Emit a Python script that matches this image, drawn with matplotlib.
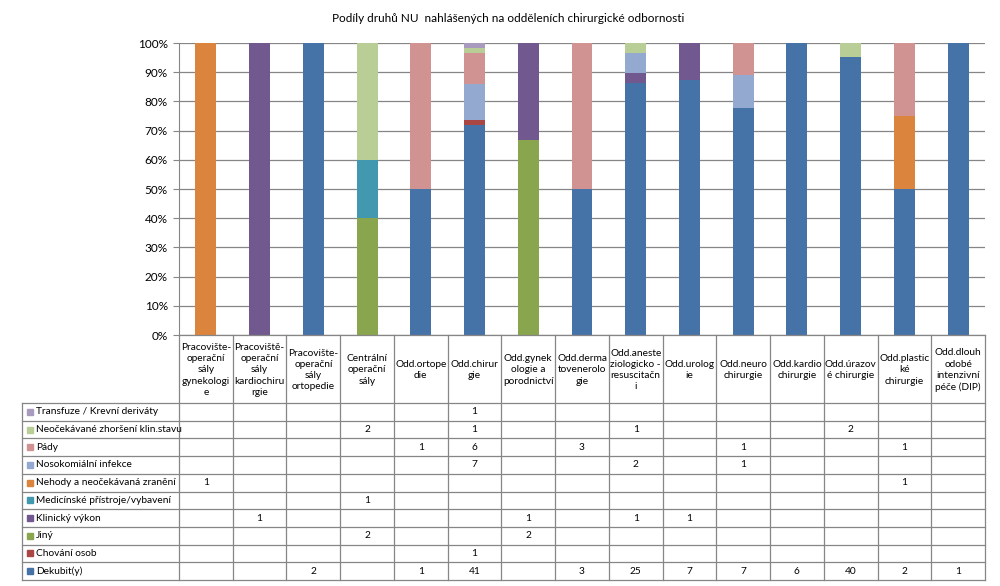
import numpy as np
import matplotlib.pyplot as plt

plt.rcParams['font.family'] = ['Lato', 'DejaVu Sans']

# oddeleni (sloupce)
departments = [
    "Pracovište-\noperační\nsály\ngynekologi\ne",
    "Pracoviště-\noperační\nsály\nkardiochiru\nrgie",
    "Pracovište-\noperační\nsály\nortopedie",
    "Centrální\noperační\nsály",
    "Odd.ortope\ndie",
    "Odd.chirur\ngie",
    "Odd.gynek\nologie a\nporodnictví",
    "Odd.derma\ntovenerolo\ngie",
    "Odd.aneste\nziologicko -\nresuscitačn\ni",
    "Odd.urolog\nie",
    "Odd.neuro\nchirurgie",
    "Odd.kardio\nchirurgie",
    "Odd.úrazov\né chirurgie",
    "Odd.plastic\nké\nchirurgie",
    "Odd.dlouh\nodobé\nintenzivní\npéče (DIP)",
]

# druhy NU, poradi od spodu sloupce
categories = [
    "Dekubit(y)",
    "Chování osob",
    "Jiný",
    "Klinický výkon",
    "Medicínské přístroje/vybavení",
    "Nehody a neočekávaná zranění",
    "Nosokomiální infekce",
    "Pády",
    "Neočekávané zhoršení klin.stavu",
    "Transfuze / Krevní deriváty",
]

colors = ["#4572A7", "#AA4643", "#89A54E", "#71588F", "#4198AF",
          "#DB843D", "#93A9CF", "#D19392", "#B9CD96", "#A99BBD"]

# pocty (0 = prazdna bunka)
dekubit      = [0, 0, 2, 0, 1, 41, 0, 3, 25, 7, 7, 6, 40, 2, 1]
chovani      = [0, 0, 0, 0, 0, 1, 0, 0, 0, 0, 0, 0, 0, 0, 0]
jiny         = [0, 0, 0, 2, 0, 0, 2, 0, 0, 0, 0, 0, 0, 0, 0]
klinicky     = [0, 1, 0, 0, 0, 0, 1, 0, 1, 1, 0, 0, 0, 0, 0]
medicinske   = [0, 0, 0, 1, 0, 0, 0, 0, 0, 0, 0, 0, 0, 0, 0]
nehody       = [1, 0, 0, 0, 0, 0, 0, 0, 0, 0, 0, 0, 0, 1, 0]
nosokomialni = [0, 0, 0, 0, 0, 7, 0, 0, 2, 0, 1, 0, 0, 0, 0]
pady         = [0, 0, 0, 0, 1, 6, 0, 3, 0, 0, 1, 0, 0, 1, 0]
neocekavane  = [0, 0, 0, 2, 0, 1, 0, 0, 1, 0, 0, 0, 2, 0, 0]
transfuze    = [0, 0, 0, 0, 0, 1, 0, 0, 0, 0, 0, 0, 0, 0, 0]

counts = np.array([dekubit, chovani, jiny, klinicky, medicinske, nehody,
                   nosokomialni, pady, neocekavane, transfuze], dtype=float)
pct = counts / counts.sum(axis=0) * 100

W, H = 1000, 586
fig = plt.figure(figsize=(W / 100, H / 100), dpi=100)

# layout v pixelech
ax_l, ax_r, ax_t, ax_b = 179, 985, 43, 335
tab_l, head_b, tab_b = 22, 403, 580
grid_c = "#868686"

ax = fig.add_axes([ax_l / W, 1 - ax_b / H, (ax_r - ax_l) / W, (ax_b - ax_t) / H])
x = np.arange(len(departments))
bottom = np.zeros(len(departments))
for i, cat in enumerate(categories):
    ax.bar(x, pct[i], 0.39, bottom=bottom, color=colors[i], zorder=3)
    bottom += pct[i]

ax.set_xlim(-0.5, len(departments) - 0.5)
ax.set_ylim(0, 100)
ax.set_yticks(np.arange(0, 101, 10))
ax.set_yticklabels([f"{v}%" for v in range(0, 101, 10)], fontsize=8.5)
ax.yaxis.grid(True, color=grid_c, linewidth=0.9, zorder=0)
ax.set_xticks([])
for s in ["top", "right", "bottom"]:
    ax.spines[s].set_visible(False)
ax.spines["left"].set_color(grid_c)
ax.tick_params(axis="y", length=4, color=grid_c, pad=4)

fig.text(0.508, 1 - 19 / H, "Podíly druhů NU  nahlášených na odděleních chirurgické odbornosti",
         ha="center", va="center", fontsize=8.5)

# datova tabulka
tax = fig.add_axes([0, 0, 1, 1])
tax.set_xlim(0, W)
tax.set_ylim(H, 0)
tax.axis("off")

ncol = len(departments)
colw = (ax_r - ax_l) / ncol
nrow = len(categories)
rowh = (tab_b - head_b) / nrow
lw = 0.9

# vodorovne cary
tax.plot([ax_l, ax_r], [ax_b, ax_b], color=grid_c, lw=lw)
for r in range(nrow + 1):
    y = head_b + r * rowh
    tax.plot([tab_l, ax_r], [y, y], color=grid_c, lw=lw)
# svisle cary
tax.plot([tab_l, tab_l], [head_b, tab_b], color=grid_c, lw=lw)
for c in range(ncol + 1):
    xc = ax_l + c * colw
    tax.plot([xc, xc], [ax_b, tab_b], color=grid_c, lw=lw)

for c, name in enumerate(departments):
    tax.text(ax_l + (c + 0.5) * colw, (ax_b + head_b) / 2 + 1, name,
             ha="center", va="center", fontsize=7.3, linespacing=1.32)

for r in range(nrow):
    k = nrow - 1 - r
    yc = head_b + (r + 0.5) * rowh
    tax.add_patch(plt.Rectangle((27, yc - 3), 6, 6, color=colors[k]))
    tax.text(36, yc, categories[k], ha="left", va="center", fontsize=7.3)
    for c in range(ncol):
        v = int(counts[k, c])
        if v:
            tax.text(ax_l + (c + 0.5) * colw, yc, str(v),
                     ha="center", va="center", fontsize=7.3)

fig.savefig("out.png", dpi=100)
